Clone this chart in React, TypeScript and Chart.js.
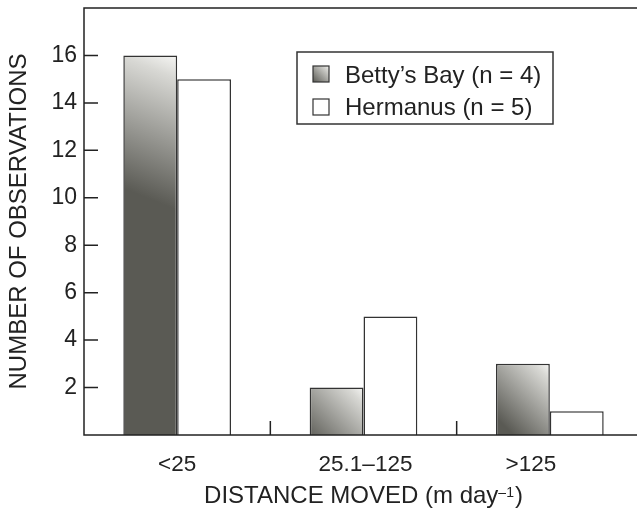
import React, { useEffect, useRef } from "react";
import { Chart, registerables } from "chart.js";

Chart.register(...registerables);

// ---- data ----
const categories = ["<25", "25.1–125", ">125"];
const bettysBay = [16, 2, 3];
const hermanus = [15, 5, 1];
const seriesLabels = ["Betty’s Bay (n = 4)", "Hermanus (n = 5)"];
const yTickValues = [2, 4, 6, 8, 10, 12, 14, 16];
const yMin = 0;
const yMax = 18;
const yTitle = "NUMBER OF OBSERVATIONS";
const xTitleMain = "DISTANCE MOVED (m day";
const xTitleSup = "–1";
const xTitleEnd = ")";

// ---- style ----
const FONT = '"Liberation Sans", Arial, Helvetica, sans-serif';
const INK = "#222222";
const EDGE = "#333333";
const DARK = "#5a5a54";
const LIGHT = "#f6f6f4";
const CAT_PCT = 0.578;
const labelShift = [0, 2, -19];

function shade(c: CanvasRenderingContext2D, left: number, top: number, right: number, bottom: number) {
  const w = Math.max(4, right - left);
  const h = Math.max(4, bottom - top);
  const dy = Math.max(w, 0.35 * h);
  const g = c.createLinearGradient(right, top, left, top + dy);
  g.addColorStop(0, LIGHT);
  g.addColorStop(0.15, "#d8d8d4");
  g.addColorStop(1, DARK);
  return g;
}

const decor = {
  id: "decor",
  afterDraw(chart: any) {
    const { ctx, chartArea: a, scales } = chart;
    const x = scales.x;
    const y = scales.y;
    ctx.save();
    // frame
    ctx.strokeStyle = INK;
    ctx.lineWidth = 1.5;
    ctx.strokeRect(a.left, a.top, a.right - a.left, a.bottom - a.top);
    // inward ticks
    ctx.beginPath();
    yTickValues.forEach((v) => {
      const py = y.getPixelForValue(v);
      ctx.moveTo(a.left, py);
      ctx.lineTo(a.left + 14, py);
    });
    for (let i = 0; i < categories.length - 1; i++) {
      const px = (x.getPixelForValue(i) + x.getPixelForValue(i + 1)) / 2;
      ctx.moveTo(px, a.bottom);
      ctx.lineTo(px, a.bottom - 14);
    }
    ctx.stroke();

    // x category labels
    ctx.fillStyle = INK;
    ctx.font = `22.5px ${FONT}`;
    ctx.textAlign = "center";
    ctx.textBaseline = "alphabetic";
    categories.forEach((c, i) => {
      ctx.fillText(c, x.getPixelForValue(i) + labelShift[i], a.bottom + 36);
    });

    // x title with superscript
    const mainFont = `24px ${FONT}`;
    const supFont = `14px ${FONT}`;
    ctx.textAlign = "left";
    ctx.font = mainFont;
    const w1 = ctx.measureText(xTitleMain).width;
    const w3 = ctx.measureText(xTitleEnd).width;
    ctx.font = supFont;
    const w2 = ctx.measureText(xTitleSup).width;
    const total = w1 + w2 + w3 + 1;
    let tx = (a.left + a.right) / 2 - total / 2;
    const ty = a.bottom + 68;
    ctx.font = mainFont;
    ctx.fillText(xTitleMain, tx, ty);
    tx += w1;
    ctx.font = supFont;
    ctx.fillText(xTitleSup, tx, ty - 6);
    tx += w2 + 1;
    ctx.font = mainFont;
    ctx.fillText(xTitleEnd, tx, ty);

    // legend box
    const bx = a.left + 213;
    const by = a.top + 44;
    const bw = 256;
    const bh = 72;
    ctx.fillStyle = "#ffffff";
    ctx.fillRect(bx, by, bw, bh);
    ctx.strokeStyle = EDGE;
    ctx.lineWidth = 1.5;
    ctx.strokeRect(bx, by, bw, bh);
    chart.data.datasets.forEach((ds: any, k: number) => {
      const sx = bx + 16;
      const sy = by + 14 + k * 33;
      ctx.fillStyle = k === 0 ? shade(ctx, sx, sy, sx + 16, sy + 16) : "#ffffff";
      ctx.fillRect(sx, sy, 16, 16);
      ctx.strokeStyle = EDGE;
      ctx.lineWidth = 1.2;
      ctx.strokeRect(sx, sy, 16, 16);
      ctx.fillStyle = INK;
      ctx.font = `24px ${FONT}`;
      ctx.textAlign = "left";
      ctx.fillText(ds.label, bx + 48, by + 31 + k * 31.5);
    });
    ctx.restore();
  },
};

export default function App() {
  const ref = useRef<HTMLCanvasElement>(null);
  useEffect(() => {
    const canvas = ref.current!;
    const chart = new Chart(canvas, {
      type: "bar",
      data: {
        labels: categories,
        datasets: [
          {
            label: seriesLabels[0],
            data: bettysBay,
            backgroundColor: (c: any) => {
              const ch = c.chart;
              const xs = ch.scales?.x;
              const ys = ch.scales?.y;
              if (!ch.chartArea || !xs || !ys || c.type !== "data") return DARK;
              const i = c.dataIndex;
              const center = xs.getPixelForValue(i);
              const w = ((xs.width / categories.length) * CAT_PCT) / 2;
              const top = ys.getPixelForValue(bettysBay[i]);
              const bottom = ys.getPixelForValue(0);
              if (![center, w, top, bottom].every((n) => Number.isFinite(n))) return DARK;
              return shade(ch.ctx, center - w, top, center, bottom);
            },
            borderColor: EDGE,
            borderWidth: 1.5,
          },
          {
            label: seriesLabels[1],
            data: hermanus,
            backgroundColor: "#ffffff",
            borderColor: EDGE,
            borderWidth: 1.5,
          },
        ],
      },
      options: {
        responsive: false,
        devicePixelRatio: 1,
        animation: false,
        layout: { padding: { top: 8, right: 7, left: 0, bottom: 0 } },
        datasets: { bar: { categoryPercentage: CAT_PCT, barPercentage: 1 } },
        plugins: { legend: { display: false }, tooltip: { enabled: false } },
        scales: {
          x: {
            grid: { display: false, drawTicks: false },
            border: { display: false },
            ticks: { display: false },
            afterFit: (s: any) => {
              s.height = 73;
              s.paddingLeft = 0;
              s.paddingRight = 0;
            },
          },
          y: {
            min: yMin,
            max: yMax,
            afterBuildTicks: (s: any) => {
              s.ticks = yTickValues.map((v) => ({ value: v }));
            },
            grid: { display: false, drawTicks: false },
            border: { display: false },
            ticks: {
              color: INK,
              padding: 7,
              font: { family: FONT, size: 23 },
            },
            title: {
              display: true,
              text: yTitle,
              color: INK,
              font: { family: FONT, size: 24 },
              padding: { top: 5, bottom: 0 },
            },
            afterFit: (s: any) => {
              s.width = 84;
              s.paddingTop = 0;
              s.paddingBottom = 0;
            },
          },
        },
      },
      plugins: [decor],
    } as any);
    return () => chart.destroy();
  }, []);
  return (
    <div
      style={{
        position: "fixed",
        left: 0,
        top: 0,
        width: 637,
        height: 508,
        overflow: "hidden",
        background: "#fff",
      }}
    >
      <canvas ref={ref} width={650} height={508} style={{ display: "block", width: 650, height: 508 }} />
    </div>
  );
}
